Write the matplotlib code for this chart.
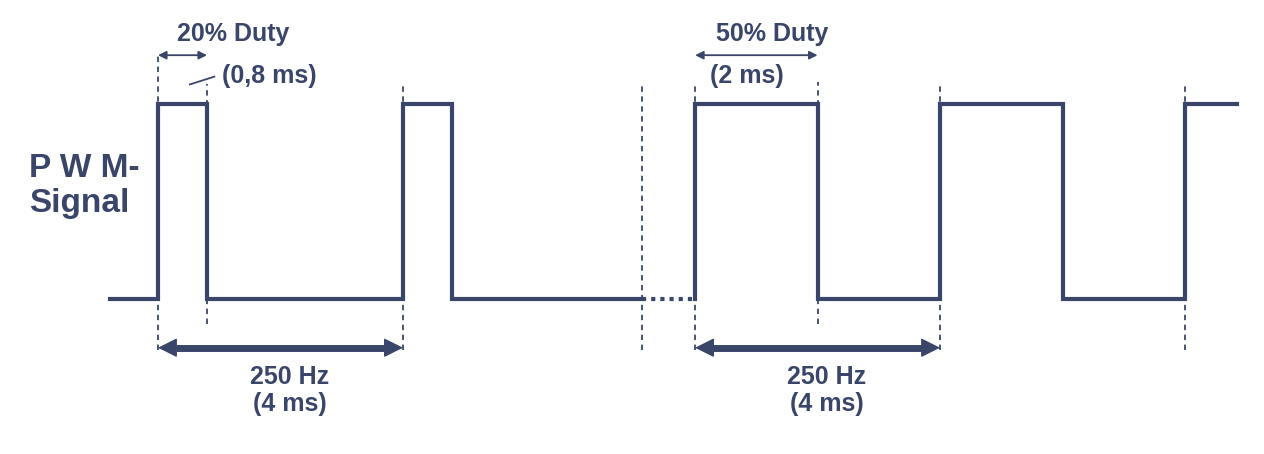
import numpy as np
import matplotlib.pyplot as plt

plt.rcParams['font.family'] = ['Liberation Sans', 'DejaVu Sans']

# first waveform (20 % duty), time in ms, level 0/1
t1 = [-0.78, 0, 0, 0.8, 0.8, 4, 4, 4.8, 4.8, 7.9]
v1 = [0, 0, 1, 1, 0, 0, 1, 1, 0, 0]
# second waveform (50 % duty), starts after the gap
off2 = 8.77
t2 = [0, 0, 2, 2, 4, 4, 6, 6, 8, 8, 8.85]
v2 = [0, 1, 1, 0, 0, 1, 1, 0, 0, 1, 1]
# dashed guide lines: (time, top, bottom) in level units
guides1 = [(0, 1.25, -0.26), (0.8, 1.1, -0.13), (4, 1.11, -0.26), (7.9, 1.11, -0.26)]
guides2 = [(0, 1.11, -0.26), (2, 1.11, -0.13), (4, 1.11, -0.26), (8, 1.11, -0.26)]

col = '#3a4669'
fig = plt.figure(figsize=(12.64, 4.54), dpi=100)
ax = fig.add_axes([0, 0, 1, 1])
ax.set_xlim(-2.58, 18.06)
ax.set_ylim(-0.795, 1.533)
ax.axis('off')

ax.plot(t1, v1, color=col, lw=3.0, solid_joinstyle='miter')
ax.plot(np.array(t2) + off2, v2, color=col, lw=3.0, solid_joinstyle='miter')
ax.plot([7.9, off2], [0, 0], color=col, lw=3.0, ls=(0, (1, 1.2)))

for t, top, bot in guides1:
    ax.plot([t, t], [bot, top], color=col, lw=1.3, ls=(0, (3, 2.5)))
for t, top, bot in guides2:
    ax.plot([t + off2, t + off2], [bot, top], color=col, lw=1.3, ls=(0, (3, 2.5)))

fs = 18
# duty arrows
ax.annotate('', xy=(0, 1.25), xytext=(0.8, 1.25),
            arrowprops=dict(arrowstyle='<|-|>', color=col, lw=1.3, mutation_scale=12,
                            shrinkA=0, shrinkB=0))
ax.text(1.23, 1.36, '20% Duty', color=col, fontsize=fs, fontweight='bold', ha='center', va='center')
ax.plot([0.52, 0.92], [1.1, 1.14], color=col, lw=1.3)
ax.text(1.04, 1.145, '(0,8 ms)', color=col, fontsize=fs, fontweight='bold', ha='left', va='center')

ax.annotate('', xy=(off2, 1.25), xytext=(off2 + 2, 1.25),
            arrowprops=dict(arrowstyle='<|-|>', color=col, lw=1.3, mutation_scale=12,
                            shrinkA=0, shrinkB=0))
ax.text(off2 + 1.26, 1.36, '50% Duty', color=col, fontsize=fs, fontweight='bold', ha='center', va='center')
ax.text(off2 + 0.25, 1.145, '(2 ms)', color=col, fontsize=fs, fontweight='bold', ha='left', va='center')

# period arrows
for start in [0, off2]:
    ax.plot([start + 0.3, start + 3.7], [-0.25, -0.25], color=col, lw=5, solid_capstyle='butt')
    ax.annotate('', xy=(start, -0.25), xytext=(start + 4, -0.25),
                arrowprops=dict(arrowstyle='<|-|>', color=col, lw=1, mutation_scale=30,
                                shrinkA=0, shrinkB=0))
    ax.text(start + 2.15, -0.40, '250 Hz', color=col, fontsize=fs, fontweight='bold', ha='center', va='center')
    ax.text(start + 2.15, -0.54, '(4 ms)', color=col, fontsize=fs, fontweight='bold', ha='center', va='center')

ax.text(-2.1, 0.58, 'P W M-\nSignal', color=col, fontsize=24, fontweight='bold',
        ha='left', va='center', linespacing=1.15)

fig.savefig('out.png', dpi=100)
